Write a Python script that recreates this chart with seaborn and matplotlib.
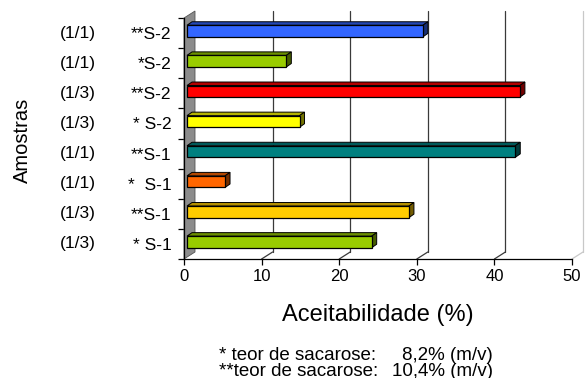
import numpy as np
import pandas as pd
import seaborn as sns
import matplotlib.pyplot as plt
from matplotlib.patches import Polygon
from matplotlib.transforms import blended_transform_factory

sns.set_style("white")
plt.rcParams["font.family"] = ["Liberation Sans", "DejaVu Sans"]
plt.rcParams["text.color"] = "black"

# Samples, top to bottom
dilutions = ["(1/1)", "(1/1)", "(1/3)", "(1/3)", "(1/1)", "(1/1)", "(1/3)", "(1/3)"]
samples = ["**S-2", "*S-2", "**S-2", "* S-2", "**S-1", "*  S-1", "**S-1", "* S-1"]
acceptability = [30.4, 12.8, 42.9, 14.5, 42.3, 4.9, 28.6, 23.8]
bar_colors = ["#3366FF", "#99CC00", "#FF0000", "#FFFF00",
              "#008080", "#FF6600", "#FFCC00", "#99CC00"]
x_ticks = [0, 10, 20, 30, 40, 50]
x_label = "Aceitabilidade (%)"
y_label = "Amostras"
notes = [("* teor de sacarose:", "8,2% (m/v)"),
         ("**teor de sacarose:", "10,4% (m/v)")]

keys = [f"{d} {s}" for d, s in zip(dilutions, samples)]
df = pd.DataFrame({"amostra": keys, "aceitabilidade": acceptability})

W, H = 585, 378
fig = plt.figure(figsize=(W / 100, H / 100), dpi=100)
ax = fig.add_axes([184 / W, 1 - 259 / H, 388 / W, 241 / H])

sns.barplot(data=df, x="aceitabilidade", y="amostra", hue="amostra",
            palette=bar_colors, order=keys, hue_order=keys, orient="h",
            width=0.385, saturation=1, edgecolor="black", linewidth=0.9,
            legend=False, ax=ax, zorder=5)

ax.set_xlim(0, 50)
ax.set_ylim(len(keys) - 0.5, -0.5)

to_px = ax.transData.transform
to_data = ax.transData.inverted().transform

# depth of the plot box and of the bars, in pixels (right, up)
DX, DY = 11, 7
BX0, BY0 = 3, 2
BDX, BDY = 5, 3.5


def poly(points_px, **kw):
    pts = to_data(np.array(points_px, dtype=float))
    p = Polygon(pts, closed=True, clip_on=False, **kw)
    ax.add_patch(p)
    return p


(fx0, fy0) = to_px((0, len(keys) - 0.5))   # front bottom-left
(fx1, fy1) = to_px((50, -0.5))             # front top-right

# left wall
poly([(fx0, fy0), (fx0, fy1), (fx0 + DX, fy1 + DY), (fx0 + DX, fy0 + DY)],
     facecolor="#8c8c8c", edgecolor="#555555", linewidth=0.6, zorder=1)

# back gridlines and floor lines
for v in x_ticks[1:]:
    gx, _ = to_px((v, 0))
    col = "#c8c8c8" if v == x_ticks[-1] else "#3a3a3a"
    for seg in ([(gx + DX, fy0 + DY), (gx + DX, fy1 + DY)],
                [(gx, fy0), (gx + DX, fy0 + DY)]):
        pts = to_data(np.array(seg))
        ax.plot(pts[:, 0], pts[:, 1], color=col, lw=0.9, clip_on=False, zorder=0.5)

# 3D faces of each bar, built from the seaborn bars
for patch, c in zip(ax.patches[:], bar_colors):
    x0, y0 = patch.get_x(), patch.get_y()
    w, h = patch.get_width(), patch.get_height()
    (ax0, ay0), (ax1, ay1) = to_px((x0, y0)), to_px((x0 + w, y0 + h))
    left, right = min(ax0, ax1) + BX0, max(ax0, ax1) + BX0
    bot, top = min(ay0, ay1) + BY0, max(ay0, ay1) + BY0
    # shift the front face into the depth of the box
    (nx, ny) = to_data((left, top if ay0 > ay1 else bot))
    patch.set_x(nx)
    patch.set_y(ny)
    rgb = np.array(plt.matplotlib.colors.to_rgb(c))
    poly([(left, top), (right, top), (right + BDX, top + BDY), (left + BDX, top + BDY)],
         facecolor=rgb * 0.7, edgecolor="black", linewidth=0.7, zorder=4)
    poly([(right, bot), (right, top), (right + BDX, top + BDY), (right + BDX, bot + BDY)],
         facecolor=rgb * 0.45, edgecolor="black", linewidth=0.7, zorder=4)

# axes styling
sns.despine(ax=ax, top=True, right=True)
for side in ("left", "bottom"):
    ax.spines[side].set_color("black")
    ax.spines[side].set_linewidth(0.9)
ax.set_xticks(x_ticks)
ax.tick_params(axis="x", length=4, width=0.9, color="black", labelsize=12,
               pad=3, bottom=True, labelcolor="black")
ax.set_yticks(range(len(keys)))
ax.set_yticklabels(samples)
ax.set_yticks(np.arange(-0.5, len(keys), 1), minor=True)
ax.tick_params(axis="y", which="major", length=0, labelsize=12.5, pad=9,
               labelcolor="black")
ax.tick_params(axis="y", which="minor", length=4, width=0.9, color="black", left=True)

trans = blended_transform_factory(fig.transFigure, ax.transData)
for i, d in enumerate(dilutions):
    ax.text(78 / W, i, d, transform=trans, ha="center", va="center",
            fontsize=12.5, color="black")

ax.set_xlabel(x_label, fontsize=17, color="black")
ax.xaxis.label.set_va("center")
ax.xaxis.set_label_coords(0.5, (H - 315 - 119) / 241)
ax.set_ylabel(y_label, fontsize=14.5, color="black")
ax.yaxis.label.set_va("center")
ax.yaxis.set_label_coords((22 - 184) / 388, 0.494)

for (lhs, rhs), ypx in zip(notes, [355, 371]):
    fig.text(219 / W, 1 - ypx / H, lhs, ha="left", va="center",
             fontsize=13.5, color="black")
    fig.text(493 / W, 1 - ypx / H, rhs, ha="right", va="center",
             fontsize=13.5, color="black")

fig.savefig("out.png", dpi=100)
